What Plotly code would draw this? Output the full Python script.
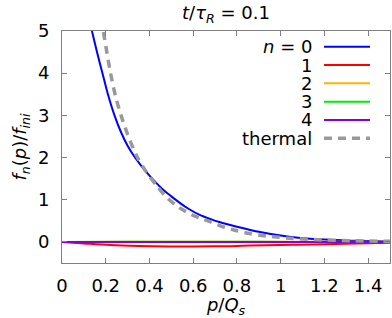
import plotly.graph_objects as go

# ---- data ----
p_n0 = [0.12, 0.137, 0.16, 0.185, 0.21, 0.24, 0.27, 0.30, 0.334, 0.36, 0.387, 0.42, 0.46,
        0.50, 0.54, 0.58, 0.63, 0.68, 0.72, 0.80, 0.90, 1.00, 1.08, 1.20, 1.32, 1.40, 1.50]
f_n0 = [5.4, 5.0, 4.5, 4.0, 3.5, 3.0, 2.6, 2.28, 2.0, 1.82, 1.65, 1.46, 1.25,
        1.08, 0.92, 0.78, 0.64, 0.54, 0.47, 0.36, 0.24, 0.15, 0.10, 0.055, 0.03, 0.02, 0.012]

p_n1 = [0, 0.1, 0.22, 0.35, 0.49, 0.6, 0.77, 0.86, 1.0, 1.08, 1.3, 1.5]
f_n1 = [0, -0.035, -0.075, -0.097, -0.107, -0.107, -0.1, -0.085, -0.072, -0.065, -0.045, -0.02]

p_n2 = [0, 0.3, 0.6, 0.9, 1.2, 1.5]
f_n2 = [0, 0.006, 0.006, 0.004, 0.002, 0.001]

p_n3 = [0, 0.3, 0.6, 0.9, 1.2, 1.5]
f_n3 = [0, 0.002, 0.002, 0.001, 0.0, 0.0]

p_n4 = [0, 0.3, 0.6, 0.9, 1.2, 1.5]
f_n4 = [0, 0.0, 0.0, 0.0, 0.0, 0.0]

p_th = [0.18, 0.189, 0.205, 0.222, 0.245, 0.27, 0.30, 0.345, 0.387, 0.43, 0.48, 0.54, 0.60,
        0.677, 0.73, 0.791, 0.85, 0.913, 0.98, 1.043, 1.15, 1.317, 1.5]
f_th = [5.3, 5.0, 4.5, 4.0, 3.45, 3.0, 2.55, 2.0, 1.65, 1.35, 1.05, 0.80, 0.63,
        0.48, 0.37, 0.275, 0.205, 0.154, 0.115, 0.088, 0.055, 0.028, 0.013]

legend_labels = ["<i>n</i> = 0", "1", "2", "3", "4", "thermal"]
colors = ["#0000ff", "#ff0000", "#ffb300", "#00ee00", "#8a00d4", "#999999"]

# ---- layout constants ----
W, H = 392, 318
ML, MR, MT, MB = 62, 2, 31, 55
PW, PH = W - ML - MR, H - MT - MB
FONT = "DejaVu Sans"
FS = 18

fig = go.Figure()
series = [(p_n0, f_n0), (p_n1, f_n1), (p_n2, f_n2), (p_n3, f_n3), (p_n4, f_n4)]
for (px, fy), c, name in zip(series, colors[:5], legend_labels[:5]):
    fig.add_trace(go.Scatter(x=px, y=fy, mode="lines", name=name,
                             line=dict(color=c, width=2, shape="spline", smoothing=0.8),
                             showlegend=False))
fig.add_trace(go.Scatter(x=p_th, y=f_th, mode="lines", name="thermal",
                         line=dict(color=colors[5], width=3.5, dash="8px,6px",
                                   shape="spline", smoothing=0.8),
                         showlegend=False))


def px2paper_x(px):
    return (px - ML) / PW


def py2paper_y(py):
    return (H - MB - py) / PH


row_y = [46.7, 65, 83.3, 101.7, 120, 138.3]
annotations = []
shapes = []
for lab, c, ry in zip(legend_labels, colors, row_y):
    annotations.append(dict(x=px2paper_x(314), y=py2paper_y(ry), xref="paper", yref="paper",
                            text=lab, showarrow=False, xanchor="right", yanchor="middle",
                            font=dict(family=FONT, size=FS, color="black")))
    dash = "8px,6px" if lab == "thermal" else "solid"
    w = 3.5 if lab == "thermal" else 2
    shapes.append(dict(type="line", xref="paper", yref="paper",
                       x0=px2paper_x(324), x1=px2paper_x(370),
                       y0=py2paper_y(ry), y1=py2paper_y(ry),
                       line=dict(color=c, width=w, dash=dash)))

axis_common = dict(showline=True, linecolor="#808080", linewidth=1, mirror="ticks",
                   ticks="inside", ticklen=5, tickcolor="#808080", showgrid=False,
                   zeroline=False, tickfont=dict(family=FONT, size=FS, color="black"))

fig.update_layout(
    width=W, height=H,
    margin=dict(l=ML, r=MR, t=MT, b=MB),
    paper_bgcolor="white", plot_bgcolor="white",
    font=dict(family=FONT, size=FS, color="black"),
    title=dict(text="<i>t</i>/<i>τ<sub>R</sub></i> = 0.1", x=px2paper_x(226), xref="paper",
               xanchor="center", y=1 - 13 / H, yanchor="middle", yref="container",
               font=dict(family=FONT, size=FS, color="black")),
    xaxis=dict(range=[0, 1.5], dtick=0.2, tick0=0, ticklabelstandoff=6,
               title=dict(text="<i>p</i>/<i>Q<sub>s</sub></i>", standoff=9,
                          font=dict(family=FONT, size=FS, color="black")),
               **axis_common),
    yaxis=dict(range=[-0.5, 5], dtick=1, tick0=0, ticklabelstandoff=8,
               title=dict(text="<i>f<sub>n</sub></i>(<i>p</i>)/<i>f<sub>ini</sub></i>", standoff=6,
                          font=dict(family=FONT, size=FS, color="black")),
               **axis_common),
    annotations=annotations,
    shapes=shapes,
)

fig.write_html("out.html", config={"displayModeBar": False},
               post_script="document.body.style.margin='0';document.body.style.overflow='hidden';")
